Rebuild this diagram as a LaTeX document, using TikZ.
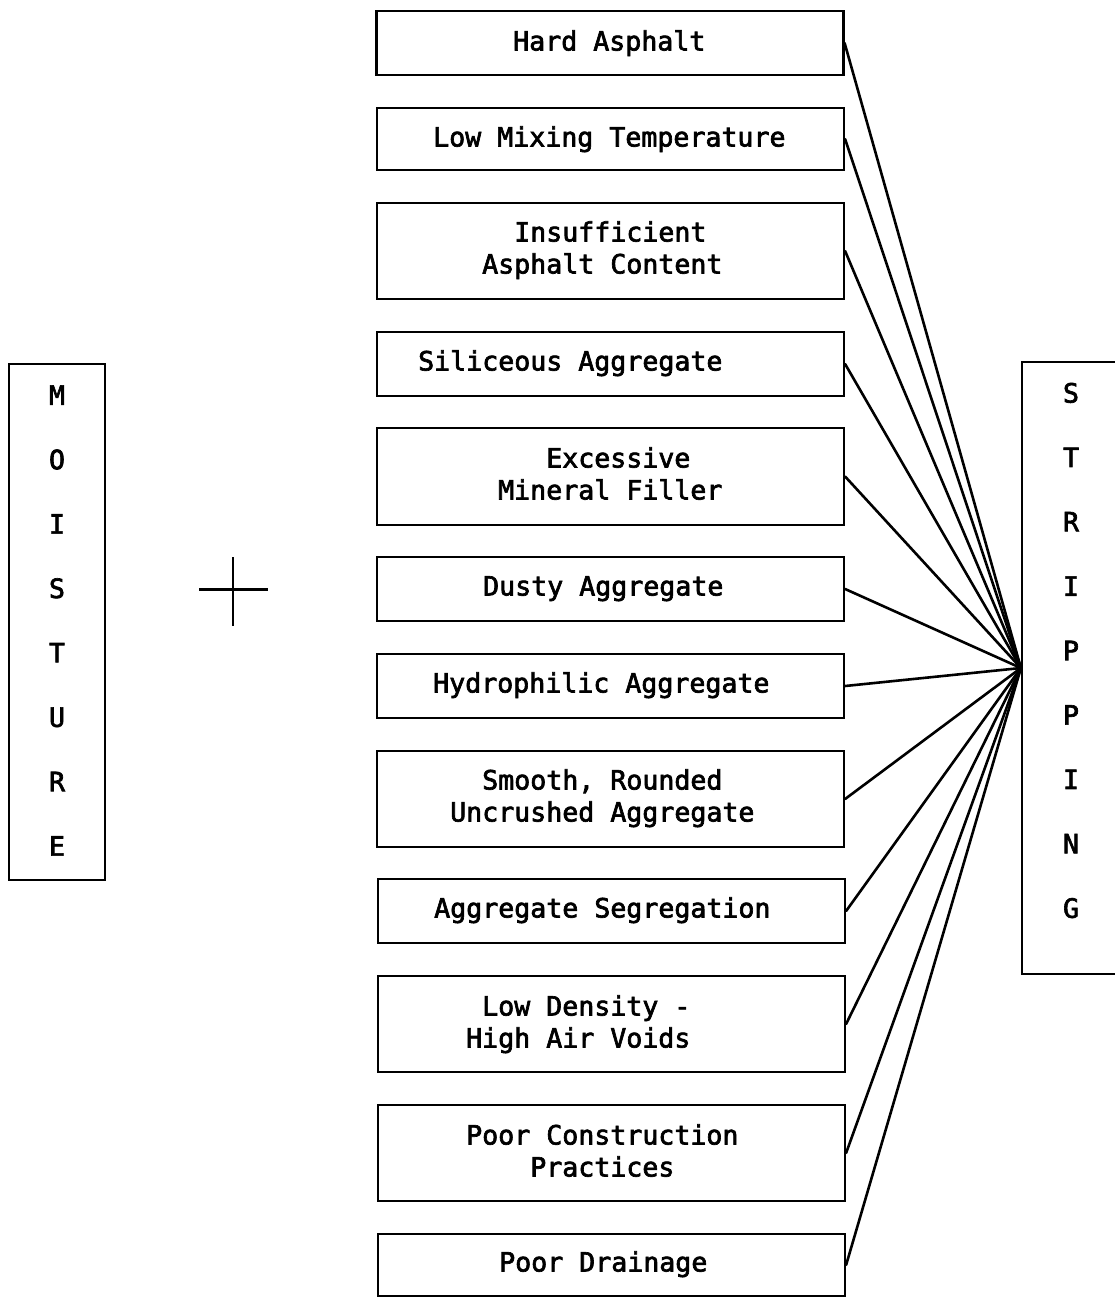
\documentclass[tikz,border=0pt]{standalone}
\usepackage{fontspec}
\setmonofont[BoldFont={DejaVu Sans Mono}, BoldFeatures={FakeBold=2.5}]{DejaVu Sans Mono}
\begin{document}
\begin{tikzpicture}[x=1pt,y=-1pt,
  box/.style={draw, line width=2.2pt, rectangle, inner sep=0pt, minimum width=467pt},
  txt/.style={font=\ttfamily\bfseries\fontsize{26.6}{32}\selectfont, inner sep=0pt, anchor=base west, align=left},
  vtxt/.style={font=\ttfamily\bfseries\fontsize{26.6}{64.4}\selectfont, inner sep=0pt, align=center},
  conn/.style={line width=2.6pt, line cap=round}]
\useasboundingbox (0,0) rectangle (1114,1297);
\def\sp{\phantom{X}}
% side boxes
\node[draw, line width=2.2pt, minimum width=96pt, minimum height=516pt, inner sep=0pt] (moist) at (57,622) {};
\node[vtxt] (moistt) at (57,620.5) {M\\O\\I\\S\\T\\U\\R\\E};
\node[draw, line width=2.2pt, minimum width=98pt, minimum height=612pt, inner sep=0pt] (strip) at (1071,668) {};
\node[vtxt] (stript) at (1071,650.5) {S\\T\\R\\I\\P\\P\\I\\N\\G};
% plus sign
\draw[line width=2.8pt] (233,557) -- (233,626);
\draw[line width=2.8pt] (199,589.5) -- (268,589.5);
% cause boxes
\node[box, minimum height=64pt] (b1) at (610,43) {};
\node[box, minimum height=62pt] (b2) at (610.5,139) {};
\node[box, minimum height=96pt] (b3) at (610.5,251) {};
\node[box, minimum height=64pt] (b4) at (610.5,364) {};
\node[box, minimum height=97pt] (b5) at (610.5,476.5) {};
\node[box, minimum height=64pt] (b6) at (610.5,589) {};
\node[box, minimum height=64pt] (b7) at (610.5,686) {};
\node[box, minimum height=96pt] (b8) at (610.5,799) {};
\node[box, minimum height=64pt] (b9) at (611.5,911) {};
\node[box, minimum height=96pt] (b10) at (611.5,1024) {};
\node[box, minimum height=96pt] (b11) at (611.5,1153) {};
\node[box, minimum height=62pt] (b12) at (611.5,1265) {};
% labels (multi-line: anchor is the last line's baseline)
\node[txt] (t1) at (513,50.5) {Hard Asphalt};
\node[txt] (t2) at (433,146.5) {Low Mixing Temperature};
\node[txt] (t3) at (482,273.5) {\sp\sp Insufficient\\Asphalt Content};
\node[txt] (t4) at (418,370.5) {Siliceous Aggregate};
\node[txt] (t5) at (498,499.5) {\sp\sp\sp Excessive\\Mineral Filler};
\node[txt] (t6) at (483,595.5) {Dusty Aggregate};
\node[txt] (t7) at (433,692.5) {Hydrophilic Aggregate};
\node[txt] (t8) at (450,821.5) {\sp\sp Smooth, Rounded\\Uncrushed Aggregate};
\node[txt] (t9) at (434,917.5) {Aggregate Segregation};
\node[txt] (t10) at (466,1047.5) {\sp Low Density -\\High Air Voids};
\node[txt] (t11) at (466,1176.5) {Poor Construction\\\sp\sp\sp\sp Practices};
\node[txt] (t12) at (499,1271.5) {Poor Drainage};
% connectors
\foreach \b in {b1,b2,b3,b4,b5,b6,b7,b8,b9,b10,b11,b12}
  \draw[conn] (\b.east) -- (strip.west);
\end{tikzpicture}
\end{document}
